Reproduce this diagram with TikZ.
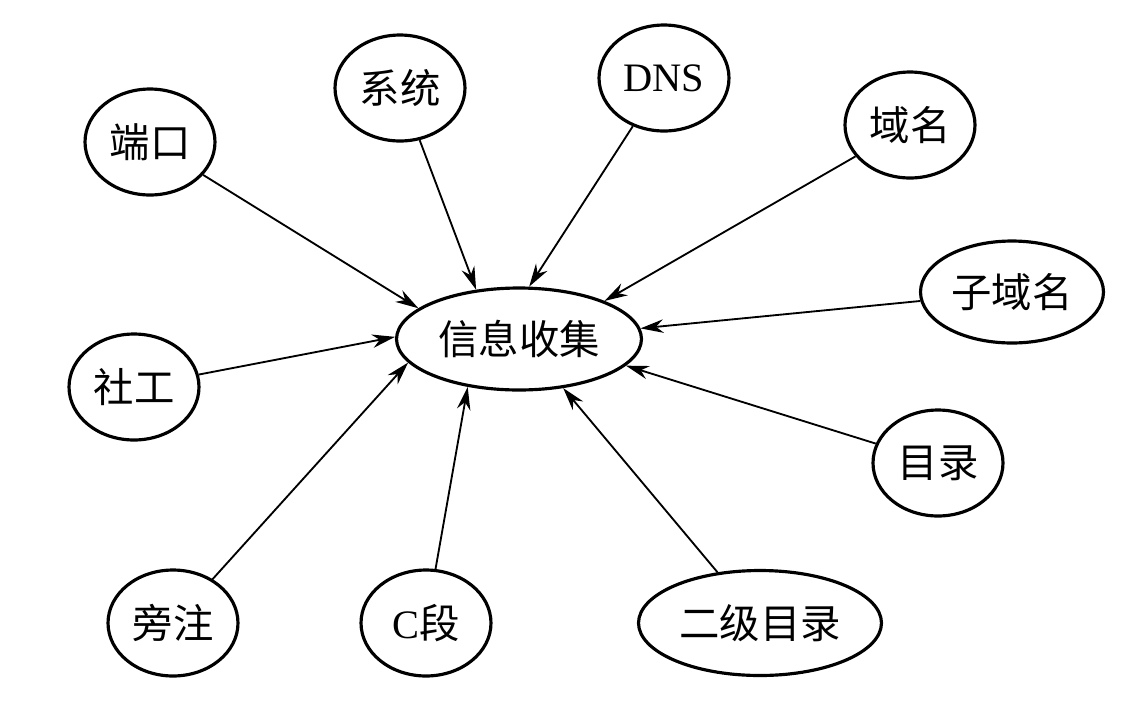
\documentclass[tikz,border=0pt]{standalone}
\usepackage{fontspec}
\setmainfont{Liberation Serif}
\newfontfamily\cjk{Noto Sans CJK SC}
\newfontfamily\lat{Liberation Serif}
\usepackage{tikz}
\usetikzlibrary{arrows.meta,shapes.geometric}

\begin{document}
\begin{tikzpicture}[
  x=0.02cm, y=-0.02cm,
  every node/.style={font=\fontsize{23}{27}\selectfont\cjk, align=center},
  leaf/.style={draw, ellipse, line width=1.8pt, inner sep=0pt, minimum width=2.6cm, minimum height=2.12cm},
  wideleaf/.style={leaf, minimum width=3.66cm, minimum height=2.04cm},
  hub/.style={draw, ellipse, line width=1.8pt, inner sep=0pt, minimum width=4.9cm, minimum height=2.04cm},
  arr/.style={-{Stealth[length=4.6mm, width=2.7mm]}, line width=1.05pt}
]
\useasboundingbox (0,0) rectangle (1127,708);

\node[hub] (info) at (519,339) {信息收集};

\node[leaf] (port) at (150,142) {端口};
\node[leaf] (sys) at (400,88) {系统};
\node[leaf] (dns) at (664,78) {{\lat DNS}};
\node[leaf] (domain) at (910,125) {域名};
\node[wideleaf] (subdomain) at (1012,292) {子域名};
\node[leaf] (social) at (134,387) {社工};
\node[leaf] (dir) at (938,463) {目录};
\node[leaf] (side) at (173,623) {旁注};
\node[leaf] (cseg) at (426,623) {{\lat C}段};
\node[wideleaf, minimum width=4.86cm, minimum height=2.1cm] (subdir) at (760,623) {二级目录};

\draw[arr] (port) -- (info.163);
\draw[arr] (sys) -- (info.131);
\draw[arr] (dns) -- (info.79);
\draw[arr] (domain) -- (info.24);
\draw[arr] (subdomain) -- (info.5);
\draw[arr] (social) -- (info.179);
\draw[arr] (dir) -- (info.-14);
\draw[arr] (side) -- (info.192);
\draw[arr] (cseg) -- (info.-137);
\draw[arr] (subdir) -- (info.-48);
\end{tikzpicture}
\end{document}
